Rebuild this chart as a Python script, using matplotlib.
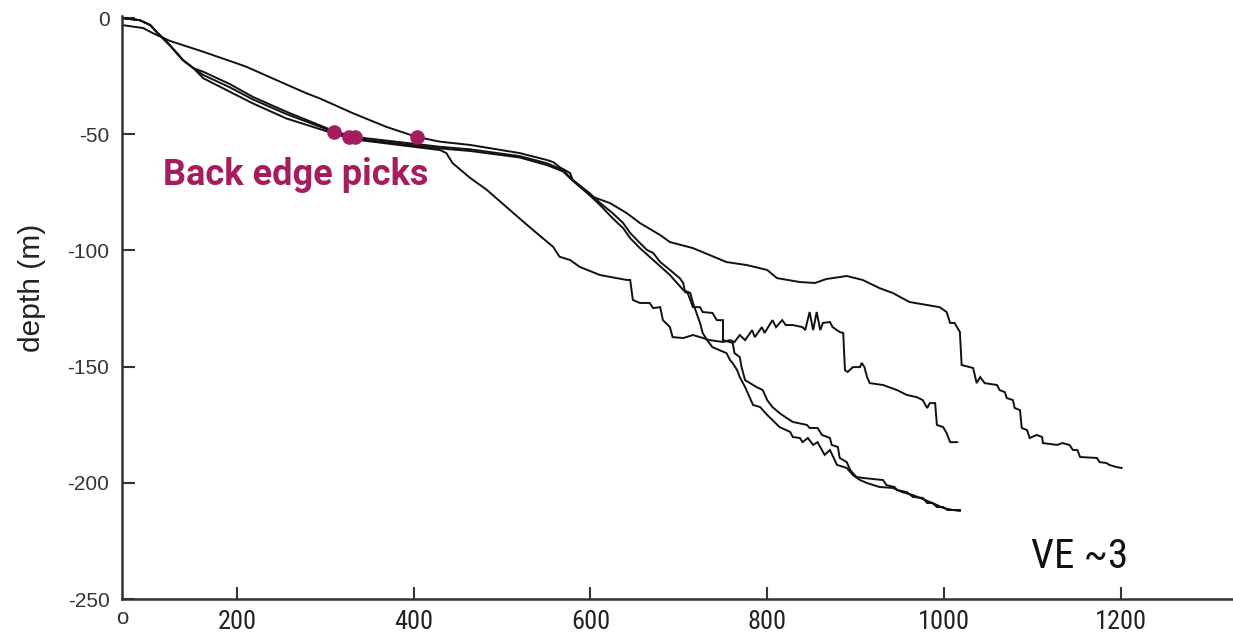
import matplotlib.pyplot as plt

plt.rcParams['axes.unicode_minus'] = False

PICK_COLOR = '#A51D5E'
LINE_COLOR = '#111111'
NARROW = ['Roboto Condensed', 'Liberation Sans Narrow', 'DejaVu Sans']

# profile 1: upper track, ends near 1200 m
p1_x = [70, 94, 105, 124, 162, 200, 211, 249, 279, 294, 331, 369, 403, 430, 464,
        520, 551, 558, 565, 577, 580, 603, 622, 641, 656, 679, 690, 716, 735, 754,
        777, 800, 811, 837, 854, 867, 890, 908, 927, 942, 961, 981, 995, 1003,
        1007, 1012, 1018, 1020, 1033, 1037, 1041, 1046, 1060, 1063, 1069, 1071,
        1078, 1080, 1086, 1088, 1094, 1097, 1105, 1111, 1112, 1128, 1134, 1142,
        1146, 1151, 1154, 1173, 1176, 1184, 1187, 1195, 1201]
p1_y = [-3.0, -4.3, -6.5, -9.8, -14.5, -19.5, -21.0, -27.4, -32.4, -34.6, -40.9,
        -46.8, -51.1, -53.2, -54.6, -58.1, -61.1, -62.0, -64.1, -66.7, -69.7,
        -77.0, -79.6, -83.9, -88.2, -93.4, -96.4, -99.0, -102.0, -105.0, -106.3,
        -108.4, -111.9, -113.6, -114.0, -112.3, -111.0, -112.7, -116.2, -118.3,
        -122.2, -123.5, -124.4, -126.5, -131.2, -131.2, -135.1, -149.3, -150.6,
        -157.1, -154.5, -157.1, -157.9, -160.1, -161.0, -163.5, -164.4, -167.8,
        -168.7, -176.4, -177.3, -180.7, -179.4, -180.3, -182.9, -183.7, -182.9,
        -183.7, -185.9, -185.9, -188.9, -189.3, -191.1, -191.5, -192.3, -193.2,
        -193.6]

# profile 2: leaves the group early, spiky section, ends near 1015 m
p2_x = [70, 90, 102, 109, 124, 139, 151, 162, 192, 218, 256, 309, 332, 430, 437,
        444, 464, 483, 505, 531, 558, 565, 577, 588, 611, 641, 645, 648, 656, 667,
        671, 679, 682, 690, 693, 705, 716, 724, 735, 750, 758, 763, 769, 775, 783,
        786, 794, 797, 806, 810, 817, 821, 829, 840, 843, 848, 852, 856, 860, 863,
        871, 874, 882, 886, 888, 891, 897, 905, 907, 910, 913, 916, 931, 947, 958,
        969, 976, 981, 984, 990, 992, 999, 1003, 1007, 1015]
p2_y = [0.0, -0.9, -3.0, -5.9, -11.6, -18.1, -21.6, -25.9, -31.7, -36.7, -43.2,
        -49.6, -52.2, -56.8, -58.1, -62.4, -68.8, -74.0, -81.3, -89.9, -98.5,
        -102.7, -104.1, -107.1, -110.6, -112.7, -112.7, -121.3, -122.6, -122.6,
        -124.8, -124.4, -130.0, -133.0, -137.3, -137.7, -136.4, -137.3, -138.6,
        -139.4, -138.6, -139.4, -136.4, -138.6, -134.3, -137.3, -133.0, -135.5,
        -130.0, -133.0, -130.0, -132.1, -132.1, -133.0, -134.3, -126.5, -134.3,
        -126.5, -134.3, -131.2, -130.8, -133.0, -135.1, -135.5, -151.5, -152.3,
        -150.2, -150.2, -148.4, -150.2, -154.5, -157.1, -157.9, -160.1, -162.2,
        -163.1, -164.4, -167.8, -165.7, -165.7, -175.1, -176.0, -178.6, -182.5,
        -182.5]

# profile 3: steep lower track
p3_x = [70, 90, 102, 109, 124, 139, 151, 162, 192, 218, 256, 309, 332, 430, 464,
        520, 551, 569, 580, 599, 611, 625, 637, 645, 656, 664, 671, 679, 690, 701,
        705, 707, 710, 713, 716, 724, 727, 738, 743, 750, 750, 761, 763, 769, 771,
        775, 788, 795, 800, 806, 814, 822, 829, 845, 848, 857, 862, 871, 873, 880,
        882, 890, 894, 901, 908, 931, 935, 944, 947, 958, 965, 976, 981, 987, 992,
        999, 1004, 1018]
p3_y = [0.0, -0.9, -3.0, -5.9, -11.6, -18.1, -21.6, -23.1, -28.4, -33.9, -40.3,
        -48.5, -51.1, -55.4, -56.5, -59.4, -62.5, -65.4, -69.7, -75.3, -79.6,
        -83.9, -88.2, -92.5, -96.8, -99.8, -101.1, -105.0, -108.4, -111.9,
        -114.0, -117.9, -118.3, -121.3, -124.4, -124.4, -126.5, -126.9, -130.0,
        -130.0, -138.6, -139.8, -144.2, -145.9, -150.2, -155.8, -158.8, -160.1,
        -164.4, -167.4, -170.0, -172.1, -173.8, -175.1, -176.4, -176.4, -179.4,
        -180.7, -183.7, -184.6, -189.3, -191.1, -194.5, -197.5, -197.9, -198.8,
        -201.0, -201.8, -203.1, -204.0, -206.1, -206.5, -208.7, -208.7, -210.4,
        -210.4, -211.7, -211.7]

# profile 4: steep lower track, second
p4_x = [70, 90, 102, 109, 124, 139, 151, 162, 192, 218, 256, 309, 332, 430, 464,
        520, 551, 569, 580, 599, 611, 625, 637, 645, 656, 671, 690, 705, 713, 716,
        720, 724, 727, 732, 738, 746, 754, 758, 761, 766, 769, 775, 784, 792, 800,
        806, 814, 826, 829, 837, 840, 846, 852, 857, 865, 871, 879, 890, 897, 905,
        913, 927, 942, 953, 965, 973, 987, 999, 1010, 1018]
p4_y = [0.0, -0.9, -3.0, -5.9, -11.6, -18.1, -21.6, -24.5, -29.8, -35.0, -41.3,
        -48.9, -51.8, -56.1, -57.2, -60.0, -63.3, -66.0, -70.0, -76.2, -80.5,
        -86.1, -90.4, -94.7, -99.0, -104.1, -110.6, -117.0, -118.3, -122.6,
        -126.9, -131.2, -135.5, -138.6, -141.6, -142.9, -144.2, -147.2, -148.5,
        -151.5, -154.5, -158.8, -166.5, -167.4, -170.8, -173.0, -176.0, -178.1,
        -180.3, -180.7, -182.5, -180.7, -183.7, -182.5, -188.0, -185.9, -192.3,
        -193.6, -196.7, -198.8, -200.1, -201.8, -202.2, -204.0, -205.3, -206.5,
        -208.7, -210.8, -211.7, -212.1]

pick_x = [310, 327, 334, 404]
pick_y = [-49.1, -51.2, -51.2, -51.2]

y_ticks = [0, -50, -100, -150, -200, -250]
x_ticks = [200, 400, 600, 800, 1000, 1200]

fig = plt.figure(figsize=(12.33, 6.34), dpi=100)
ax = fig.add_axes([0.0989, 0.0552, 0.9011, 0.9196])

for xs, ys in [(p1_x, p1_y), (p2_x, p2_y), (p3_x, p3_y), (p4_x, p4_y)]:
    ax.plot(xs, ys, color=LINE_COLOR, lw=1.4, solid_joinstyle='miter')

ax.plot(pick_x, pick_y, 'o', color=PICK_COLOR, ms=9.5, zorder=5)

ax.set_xlim(70, 1327)
ax.set_ylim(-250, 0.9)

for side in ['top', 'right']:
    ax.spines[side].set_visible(False)
for side in ['left', 'bottom']:
    ax.spines[side].set_linewidth(1.8)
    ax.spines[side].set_color('#333333')

ax.set_yticks(y_ticks)
ax.set_yticklabels([str(v) for v in y_ticks], fontsize=15,
                   family='Liberation Sans', color='#333333')
ax.set_xticks(x_ticks)
ax.set_xticklabels([str(v) for v in x_ticks], fontsize=19,
                   family=NARROW, color='#222222')
ax.tick_params(direction='in', length=9, width=1.5, color='#333333')
ax.tick_params(axis='y', pad=9)
ax.tick_params(axis='x', pad=8)

# origin label sits at the corner, as in the source figure
ax.text(70, -254, 'o', ha='center', va='top', fontsize=16,
        family='Liberation Sans', color='#333333')

ax.set_ylabel('depth (m)', fontsize=21.5, family='Liberation Sans',
              color='#222222', va='center')
ax.yaxis.set_label_coords(-0.081, 0.533)

ax.text(116, -72, 'Back edge picks', color=PICK_COLOR, fontsize=26,
        fontweight='bold', family='Roboto', ha='left', va='baseline')
ax.text(1099, -236.5, 'VE ~3', fontsize=29.5, family=NARROW,
        color='#111111', ha='left', va='baseline')

fig.savefig('out.png', dpi=100, facecolor='white')
